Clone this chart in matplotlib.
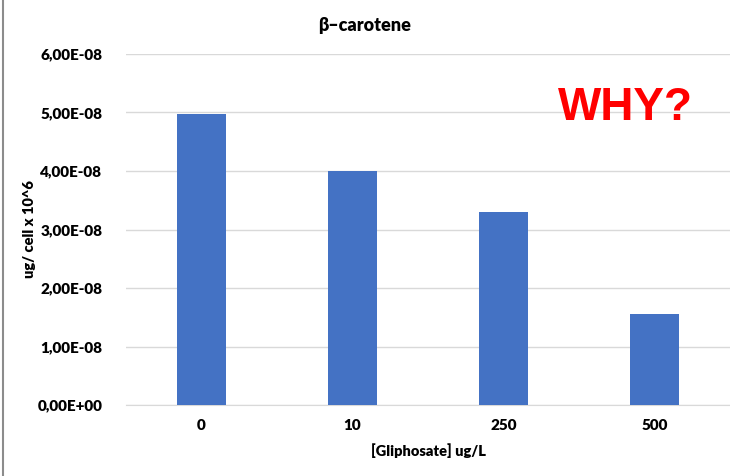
import matplotlib.pyplot as plt
from matplotlib.lines import Line2D

# data
categories = ["0", "10", "250", "500"]
values = [4.97e-8, 4.0e-8, 3.30e-8, 1.555e-8]
yticks = [0, 1e-8, 2e-8, 3e-8, 4e-8, 5e-8, 6e-8]
ytick_labels = ["0,00E+00", "1,00E-08", "2,00E-08", "3,00E-08",
                "4,00E-08", "5,00E-08", "6,00E-08"]

plt.rcParams["font.family"] = ["Lato", "DejaVu Sans"]

fig = plt.figure(figsize=(7.3, 4.76), dpi=100)
ax = fig.add_axes([126 / 730, 1 - 405 / 476, 604 / 730, 351 / 476])

x = range(len(categories))
ax.bar(x, values, width=0.33, color="#4472C4", zorder=3)

ax.set_xlim(-0.5, 3.5)
ax.set_ylim(0, 6e-8)
ax.set_yticks(yticks)
ax.set_yticklabels(ytick_labels, fontsize=11, fontweight="heavy")
ax.set_xticks(list(x))
ax.set_xticklabels(categories, fontsize=11, fontweight="heavy")
ax.tick_params(length=0)
ax.tick_params(axis="y", pad=17)
ax.tick_params(axis="x", pad=10)
ax.grid(axis="y", color="#d9d9d9", linewidth=1, zorder=0)
for s in ["top", "right", "left"]:
    ax.spines[s].set_visible(False)
ax.spines["bottom"].set_color("#d9d9d9")

ax.set_xlabel("[Gliphosate] ug/L", fontsize=10.5, fontweight="heavy", labelpad=8)
ax.set_ylabel("ug/ cell x 10^6", fontsize=10.5, fontweight="heavy", labelpad=1)

fig.text(0.5, 1 - 25 / 476, "β–carotene", ha="center", va="center",
         fontsize=13, fontweight="heavy")
fig.text(625 / 730, 1 - 108 / 476, "WHY?", ha="center", va="center",
         fontsize=33, fontweight="bold", color="red", family="Liberation Sans")

# left border of the original frame
fig.add_artist(Line2D([2.5 / 730, 2.5 / 730], [0, 1], color="#8c8c8c", lw=1.5))

fig.savefig("out.png", dpi=100)
